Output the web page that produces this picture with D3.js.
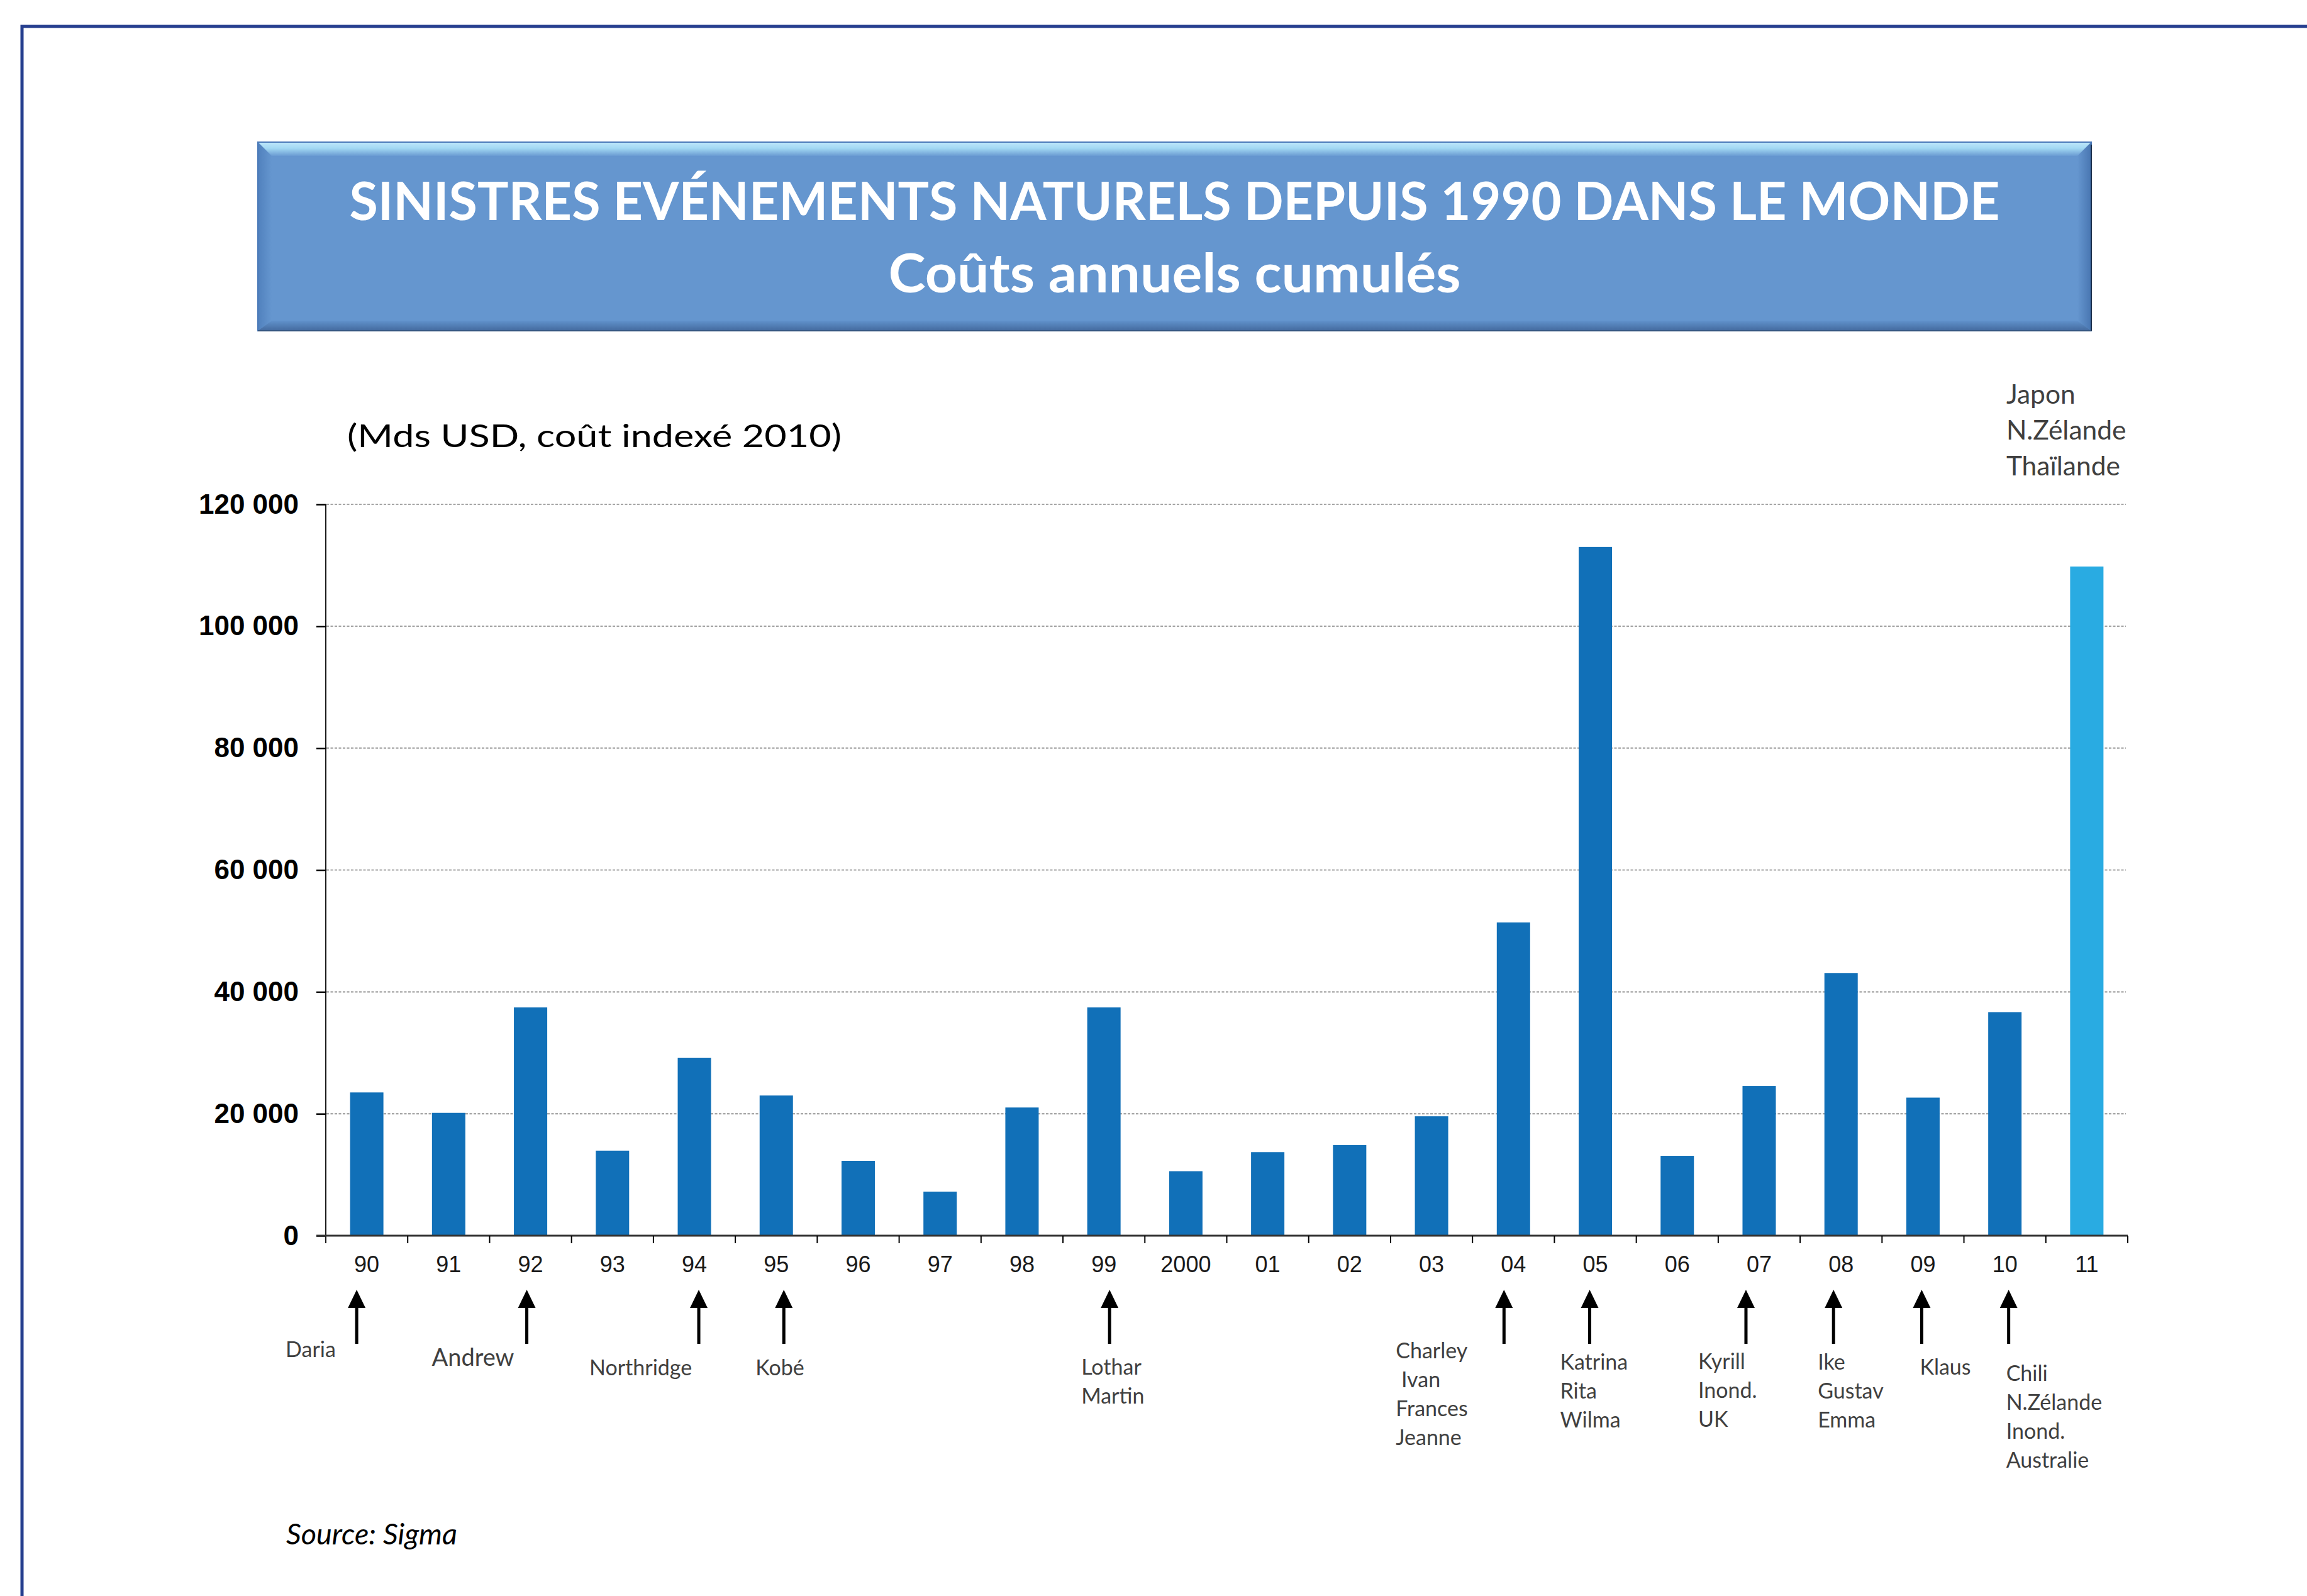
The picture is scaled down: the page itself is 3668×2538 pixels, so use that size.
<!DOCTYPE html>
<html>
<head>
<meta charset="utf-8">
<script src="https://cdn.jsdelivr.net/npm/d3@7/dist/d3.min.js"></script>
<style>
  html, body { margin: 0; padding: 0; background: #ffffff; }
  svg { display: block; }
</style>
</head>
<body>
<script>
// ---------------- DATA ----------------
const years = ["90","91","92","93","94","95","96","97","98","99","2000","01","02","03","04","05","06","07","08","09","10","11"];
const costs = [23500, 20150, 37450, 13950, 29200, 23000, 12280, 7230, 21030, 37450, 10580, 13700, 14870, 19590, 51400, 113000, 13100, 24550, 43100, 22650, 36680, 109800];
const highlightYear = "11";
const yTicks = [0, 20000, 40000, 60000, 80000, 100000, 120000];
const titleLines = ["SINISTRES EVÉNEMENTS NATURELS DEPUIS 1990 DANS LE MONDE", "Coûts annuels cumulés"];
const unitLabel = "(Mds USD, coût indexé 2010)";
const sourceLabel = "Source: Sigma";
const arrowYears = ["90","92","94","95","99","04","05","07","08","09","10"];
const eventAnchors = ["90","92","94","95","99","04","05","07","08","09","10"];
const eventNames = [
  ["Daria"],
  ["Andrew"],
  ["Northridge"],
  ["Kobé"],
  ["Lothar","Martin"],
  ["Charley"," Ivan","Frances","Jeanne"],
  ["Katrina","Rita","Wilma"],
  ["Kyrill","Inond.","UK"],
  ["Ike","Gustav","Emma"],
  ["Klaus"],
  ["Chili","N.Zélande","Inond.","Australie"]
];
const topNote = ["Japon","N.Zélande","Thaïlande"];

// ---------------- LAYOUT (positions / styles) ----------------
const W = 3668, H = 2538;
const plot = { left: 518, right: 3383, top: 802, bottom: 1965 };
const arrowDx = [-16, -6, 7, 12, 9, -15, -9, -21, -12, -2, 6];
const labelDx = [-129, -157, -167, -33, -36, -187, -56, -97, -37, -5, 2];
const labelY  = [2158, 2172, 2187, 2187, 2186, 2160, 2178, 2177, 2178, 2186, 2196];
const labelSize = [34, 38, 34, 34, 34, 34, 34, 34, 34, 34, 34];

const svg = d3.select("body").append("svg")
  .attr("width", W).attr("height", H)
  .attr("viewBox", `0 0 ${W} ${H}`);

const defs = svg.append("defs");
const gTop = defs.append("linearGradient").attr("id","gTop").attr("x1",0).attr("y1",0).attr("x2",0).attr("y2",1);
gTop.append("stop").attr("offset","0%").attr("stop-color","#bfe8fb");
gTop.append("stop").attr("offset","45%").attr("stop-color","#a2d8f3");
gTop.append("stop").attr("offset","100%").attr("stop-color","#6a9bd2");
const gLeft = defs.append("linearGradient").attr("id","gLeft").attr("x1",0).attr("y1",0).attr("x2",1).attr("y2",0);
gLeft.append("stop").attr("offset","0%").attr("stop-color","#3f6fae");
gLeft.append("stop").attr("offset","100%").attr("stop-color","#6596cf");
const gRight = defs.append("linearGradient").attr("id","gRight").attr("x1",0).attr("y1",0).attr("x2",1).attr("y2",0);
gRight.append("stop").attr("offset","0%").attr("stop-color","#6596cf");
gRight.append("stop").attr("offset","100%").attr("stop-color","#3c68a4");
const gBot = defs.append("linearGradient").attr("id","gBot").attr("x1",0).attr("y1",0).attr("x2",0).attr("y2",1);
gBot.append("stop").attr("offset","0%").attr("stop-color","#5f90ca");
gBot.append("stop").attr("offset","100%").attr("stop-color","#3b5f92");

// frame
svg.append("path")
  .attr("d", `M35,${H+20} L35,42 L${W+20},42`)
  .attr("fill","none").attr("stroke","#263f8f").attr("stroke-width",5);

// title box with bevel
const bx0 = 410, bx1 = 3325, by0 = 226, by1 = 526, bv = 22;
const tb = svg.append("g");
tb.append("rect").attr("x",bx0).attr("y",by0).attr("width",bx1-bx0).attr("height",by1-by0).attr("fill","#6596cf");
tb.append("polygon").attr("points",`${bx0},${by0} ${bx1},${by0} ${bx1-bv},${by0+bv} ${bx0+bv},${by0+bv}`).attr("fill","url(#gTop)");
tb.append("polygon").attr("points",`${bx0},${by0} ${bx0+bv},${by0+bv} ${bx0+bv},${by1-16} ${bx0},${by1}`).attr("fill","url(#gLeft)").attr("opacity",0.55);
tb.append("polygon").attr("points",`${bx1},${by0} ${bx1},${by1} ${bx1-bv},${by1-16} ${bx1-bv},${by0+bv}`).attr("fill","url(#gRight)").attr("opacity",0.7);
tb.append("polygon").attr("points",`${bx0},${by1} ${bx0+bv},${by1-16} ${bx1-bv},${by1-16} ${bx1},${by1}`).attr("fill","url(#gBot)").attr("opacity",0.8);
tb.append("rect").attr("x",bx0).attr("y",by0).attr("width",bx1-bx0).attr("height",by1-by0)
  .attr("fill","none").attr("stroke","#4a79b8").attr("stroke-width",2);
tb.append("line").attr("x1",bx1).attr("x2",bx1).attr("y1",by0+4).attr("y2",by1).attr("stroke","#1d2f4a").attr("stroke-width",2);
tb.append("line").attr("x1",bx0).attr("x2",bx1).attr("y1",by1).attr("y2",by1).attr("stroke","#34557f").attr("stroke-width",2);

const cx = (bx0 + bx1) / 2;
tb.append("text").attr("x", cx).attr("y", 350).attr("text-anchor","middle")
  .attr("font-family","Lato, 'Open Sans', sans-serif").attr("font-weight",700).attr("font-size",84)
  .attr("fill","#ffffff").attr("textLength",2624).attr("lengthAdjust","spacingAndGlyphs")
  .text(titleLines[0]);
tb.append("text").attr("x", cx).attr("y", 465).attr("text-anchor","middle")
  .attr("font-family","Lato, 'Open Sans', sans-serif").attr("font-weight",700).attr("font-size",86)
  .attr("fill","#ffffff").attr("textLength",910).attr("lengthAdjust","spacingAndGlyphs")
  .text(titleLines[1]);

// unit label
svg.append("text").attr("x",552).attr("y",711)
  .attr("font-family","Lato, 'Open Sans', sans-serif").attr("font-size",50).attr("fill","#000")
  .attr("textLength",786).attr("lengthAdjust","spacingAndGlyphs")
  .text(unitLabel);

// scales
const x = d3.scaleBand().domain(years).range([plot.left, plot.right]).paddingInner(0.593).paddingOuter(0.2965);
const y = d3.scaleLinear().domain([0, 120000]).range([plot.bottom, plot.top]);
const step = x.step();
const center = d => x(d) + x.bandwidth() / 2;

// gridlines
svg.append("g").selectAll("line").data(yTicks.filter(t => t > 0)).join("line")
  .attr("x1", plot.left + 1).attr("x2", plot.right - 3)
  .attr("y1", d => y(d)).attr("y2", d => y(d))
  .attr("stroke","#a6a6a6").attr("stroke-width",2.2).attr("stroke-dasharray","4,2.5");

// bars
svg.append("g").selectAll("rect").data(years).join("rect")
  .attr("x", d => x(d))
  .attr("width", x.bandwidth())
  .attr("y", (d, i) => y(costs[i]))
  .attr("height", (d, i) => y(0) - y(costs[i]))
  .attr("fill", d => d === highlightYear ? "#29abe2" : "#1170b8");

// y axis
const fmt = d3.formatLocale({ decimal: ",", thousands: " ", grouping: [3], currency: ["", ""] }).format(",d");
const yAxis = svg.append("g").attr("transform", `translate(${plot.left},0)`)
  .call(d3.axisLeft(y).tickValues(yTicks).tickFormat(fmt).tickSize(15).tickPadding(28));
yAxis.select(".domain").remove();
yAxis.selectAll(".tick line").attr("stroke","#000").attr("stroke-width",2.5);
yAxis.selectAll(".tick text")
  .attr("font-family","'Liberation Sans', Arial, sans-serif").attr("font-weight",700)
  .attr("font-size",44).attr("fill","#000");
svg.append("line").attr("x1",plot.left).attr("x2",plot.left).attr("y1",plot.top).attr("y2",plot.bottom + 12)
  .attr("stroke","#000").attr("stroke-width",1.8);

// x axis
svg.append("line").attr("x1",plot.left - 15).attr("x2",plot.right).attr("y1",plot.bottom).attr("y2",plot.bottom)
  .attr("stroke","#333").attr("stroke-width",3);
const boundaries = years.map(d => x(d) - step * x.paddingInner() / 2).concat([plot.right]);
svg.append("g").selectAll("line").data(boundaries.slice(1)).join("line")
  .attr("x1", d => d).attr("x2", d => d)
  .attr("y1", plot.bottom).attr("y2", plot.bottom + 12)
  .attr("stroke","#000").attr("stroke-width",2);
const xAxis = svg.append("g").attr("transform", `translate(0,${plot.bottom})`)
  .call(d3.axisBottom(x).tickSize(0).tickPadding(32));
xAxis.select(".domain").remove();
xAxis.selectAll(".tick text")
  .attr("font-family","'Liberation Sans', Arial, sans-serif")
  .attr("font-size",36).attr("fill","#1a1a1a");

// arrows
const arrowG = svg.append("g");
arrowYears.forEach((yr, i) => {
  const ax = center(yr) + arrowDx[i];
  arrowG.append("line").attr("x1",ax).attr("x2",ax).attr("y1",2075).attr("y2",2137)
    .attr("stroke","#000").attr("stroke-width",5);
  arrowG.append("polygon")
    .attr("points", `${ax},2051 ${ax-14},2080 ${ax+14},2080`).attr("fill","#000");
});

// event labels
const evG = svg.append("g");
eventAnchors.forEach((yr, i) => {
  const t = evG.append("text")
    .attr("x", center(yr) + labelDx[i]).attr("y", labelY[i])
    .attr("font-family","Lato, 'Open Sans', sans-serif")
    .attr("font-size", labelSize[i]).attr("fill","#404040")
    .attr("xml:space","preserve");
  eventNames[i].forEach((ln, j) => {
    t.append("tspan").attr("x", center(yr) + labelDx[i]).attr("dy", j === 0 ? 0 : 46).text(ln);
  });
});

// top note for 2011
const tn = svg.append("text").attr("x", center(highlightYear) - 128).attr("y", 642)
  .attr("font-family","Lato, 'Open Sans', sans-serif").attr("font-size",42.5).attr("fill","#404040");
topNote.forEach((ln, j) => {
  tn.append("tspan").attr("x", center(highlightYear) - 128).attr("dy", j === 0 ? 0 : 57).text(ln);
});

// source
svg.append("text").attr("x",455).attr("y",2456)
  .attr("font-family","Lato, 'Open Sans', sans-serif").attr("font-style","italic")
  .attr("font-size",46).attr("fill","#000")
  .attr("textLength",272).attr("lengthAdjust","spacingAndGlyphs")
  .text(sourceLabel);
</script>
</body>
</html>
